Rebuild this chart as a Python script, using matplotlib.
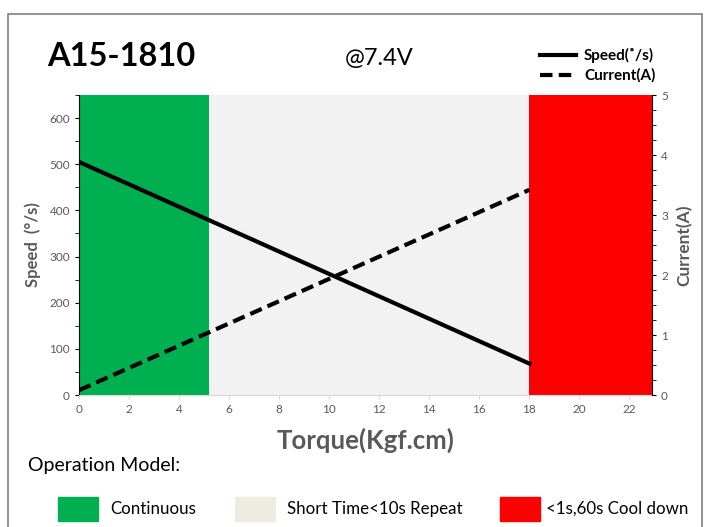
import matplotlib.pyplot as plt
from matplotlib.patches import Rectangle
from matplotlib.ticker import MultipleLocator

plt.rcParams["font.family"] = ["Lato", "DejaVu Sans"]

torque = [0, 18]
speed = [505, 68]
current = [0.08, 3.42]

zone_edges = [0, 5.2, 18, 22.9]
zone_colors = ["#00B050", "#F2F2F2", "#FF0000"]
zone_legend_colors = ["#00B050", "#EEECE1", "#FF0000"]
zone_labels = ["Continuous", "Short Time<10s Repeat", "<1s,60s Cool down"]

x_ticks = list(range(0, 23, 2))
gray = "#595959"

fig = plt.figure(figsize=(7.09, 5.27), dpi=100)
fig.patches.append(Rectangle((8 / 709, -0.05), 694 / 709, 1.05 - 14 / 527,
                             transform=fig.transFigure, fill=False,
                             edgecolor="#7f7f7f", linewidth=1.2))

ax = fig.add_axes([79 / 709, 132 / 527, 573 / 709, 300 / 527])
for i, c in enumerate(zone_colors):
    ax.axvspan(zone_edges[i], zone_edges[i + 1], color=c, zorder=0, linewidth=0)

ax.plot(torque, speed, color="black", linewidth=3, zorder=3)
ax.set_xlim(0, 22.9)
ax.set_ylim(0, 650)
ax.set_xticks(x_ticks)
ax.yaxis.set_major_locator(MultipleLocator(100))
ax.yaxis.set_minor_locator(MultipleLocator(50))
ax.tick_params(axis="both", labelsize=8.5, labelcolor=gray)
ax.tick_params(axis="x", colors="#d9d9d9", labelcolor=gray, length=3)
ax.tick_params(axis="y", which="both", length=3, color="black")
for s in ["top", "right"]:
    ax.spines[s].set_visible(False)
ax.spines["bottom"].set_color("#d9d9d9")
ax.spines["left"].set_color("black")
ax.set_ylabel("Speed  (°/s)", fontsize=12, fontweight="bold", color=gray, labelpad=6)
ax.set_xlabel("Torque(Kgf.cm)", fontsize=18.5, fontweight="bold", color=gray, labelpad=9)

ax2 = ax.twinx()
ax2.plot(torque, current, color="black", linewidth=3, linestyle=(0, (3, 1.5)), zorder=3)
ax2.set_ylim(0, 5)
ax2.yaxis.set_major_locator(MultipleLocator(1))
ax2.yaxis.set_minor_locator(MultipleLocator(0.25))
ax2.tick_params(axis="y", which="both", length=3, color="black", labelsize=8.5, labelcolor=gray)
for s in ["top", "left", "bottom"]:
    ax2.spines[s].set_visible(False)
ax2.spines["right"].set_color("black")
ax2.set_ylabel("Current(A)", fontsize=12.5, fontweight="bold", color=gray, labelpad=6)

fig.text(47 / 709, 1 - 57 / 527, "A15-1810", fontsize=23.5, fontweight="bold", va="center")
fig.text(345 / 709, 1 - 59 / 527, "@7.4V", fontsize=17, va="center")

# line legend top right
fig.add_artist(plt.Line2D([540 / 709, 576 / 709], [1 - 55 / 527] * 2, color="black", linewidth=3))
fig.add_artist(plt.Line2D([540 / 709, 576 / 709], [1 - 75 / 527] * 2, color="black", linewidth=3,
                          linestyle=(0, (3, 1.5))))
fig.text(584 / 709, 1 - 55 / 527, "Speed(˚/s)", fontsize=11, fontweight="bold", va="center")
fig.text(584 / 709, 1 - 75 / 527, "Current(A)", fontsize=11, fontweight="bold", va="center")

fig.text(28 / 709, 1 - 465 / 527, "Operation Model:", fontsize=14, va="center")
patch_x = [58, 235, 500]
text_x = [110, 287, 546]
for px, tx, c, lab in zip(patch_x, text_x, zone_legend_colors, zone_labels):
    fig.patches.append(Rectangle((px / 709, 1 - 521 / 527), 40 / 709, 24 / 527,
                                 transform=fig.transFigure, color=c))
    fig.text(tx / 709, 1 - 509 / 527, lab, fontsize=12.2, va="center")

fig.savefig("out.png", dpi=100)
